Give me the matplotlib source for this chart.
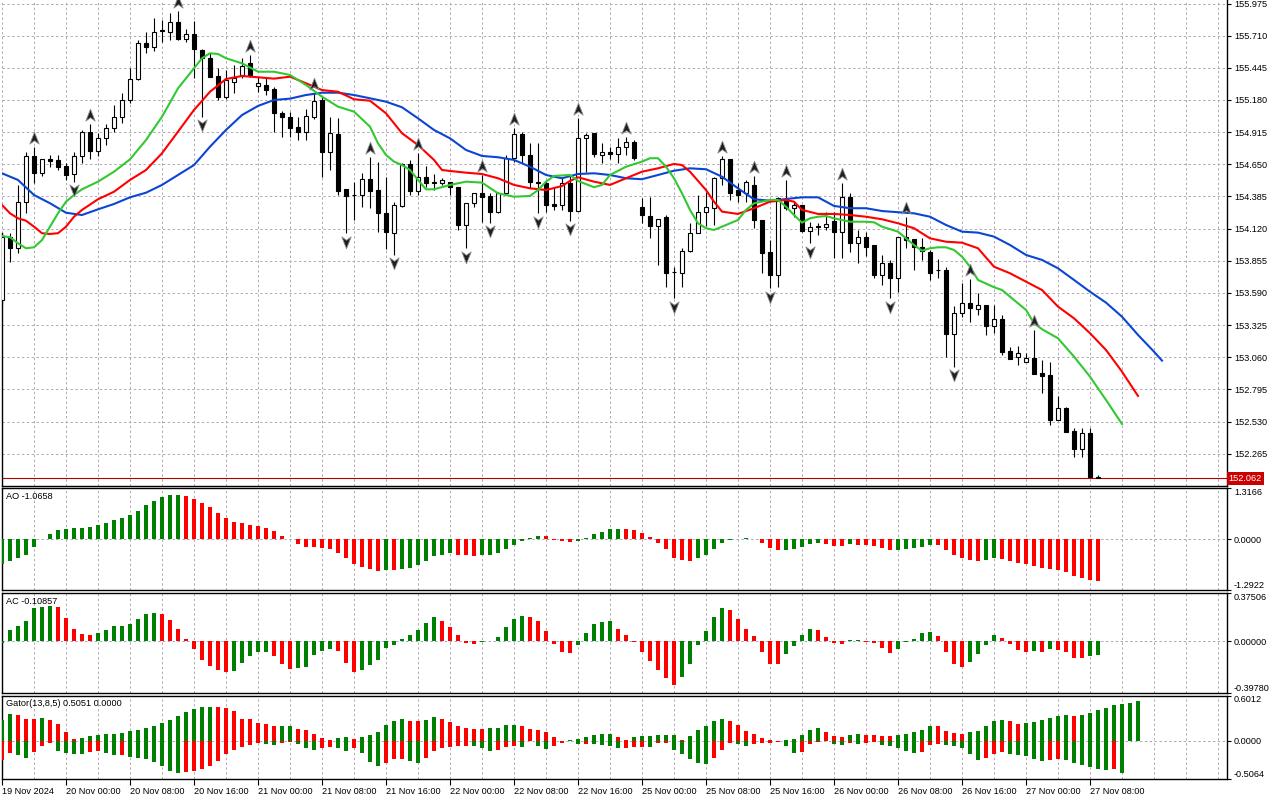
import numpy as np
import matplotlib.pyplot as plt
import matplotlib.transforms as mtransforms
from matplotlib.path import Path
from matplotlib.ticker import MultipleLocator

plt.rcParams['font.family'] = ['Liberation Sans', 'DejaVu Sans']
plt.rcParams['font.size'] = 6.6

# ---------------- DATA (hourly bars) ----------------
opens = [153.532, 154.054, 153.958, 154.342, 154.719, 154.581, 154.691, 154.686, 154.639, 154.568,
         154.719, 154.914, 154.762, 154.864, 154.947, 155.042, 155.180, 155.351, 155.647, 155.619,
         155.757, 155.743, 155.825, 155.680, 155.721, 155.592, 155.524, 155.378, 155.207, 155.331,
         155.386, 155.482, 155.295, 155.304, 155.268, 155.070, 155.042, 154.960, 154.919, 155.042,
         155.180, 154.754, 154.900, 154.444, 154.400, 154.397, 154.527, 154.438, 154.251, 154.087,
         154.307, 154.653, 154.433, 154.543, 154.504, 154.499, 154.507, 154.466, 154.150, 154.329,
         154.411, 154.389, 154.260, 154.416, 154.700, 154.900, 154.727, 154.507, 154.494, 154.323,
         154.315, 154.494, 154.268, 154.864, 154.906, 154.727, 154.749, 154.733, 154.795, 154.831,
         154.296, 154.224, 154.142, 154.218, 153.763, 153.757, 153.938, 154.087, 154.260, 154.288,
         154.535, 154.691, 154.438, 154.416, 154.480, 154.191, 153.930, 153.738, 154.362, 154.288,
         154.315, 154.103, 154.138, 154.136, 154.185, 154.095, 154.378, 154.004, 154.049, 153.985,
         153.738, 153.834, 153.711, 154.049, 154.035, 153.966, 153.930, 153.779, 153.779, 153.252,
         153.427, 153.505, 153.455, 153.491, 153.318, 153.373, 153.112, 153.060, 153.024, 153.052,
         152.933, 152.914, 152.543, 152.640, 152.455, 152.304, 152.434, 152.076]
highs = [154.084, 154.084, 154.480, 154.754, 154.795, 154.691, 154.727, 154.727, 154.658, 154.754,
         154.933, 154.982, 154.906, 154.982, 155.139, 155.235, 155.441, 155.674, 155.743, 155.853,
         155.839, 155.894, 155.913, 155.763, 155.833, 155.598, 155.565, 155.441, 155.427, 155.468,
         155.526, 155.551, 155.372, 155.372, 155.290, 155.089, 155.084, 155.037, 155.103, 155.238,
         155.213, 155.042, 155.029, 154.444, 154.507, 154.576, 154.713, 154.672, 154.548, 154.342,
         154.658, 154.686, 154.741, 154.636, 154.570, 154.535, 154.507, 154.466, 154.329, 154.416,
         154.562, 154.411, 154.424, 154.727, 154.947, 154.919, 154.823, 154.823, 154.521, 154.466,
         154.535, 154.554, 155.029, 154.906, 154.911, 154.823, 154.795, 154.864, 154.873, 154.850,
         154.370, 154.383, 154.197, 154.232, 153.806, 153.958, 154.169, 154.397, 154.424, 154.548,
         154.719, 154.691, 154.496, 154.521, 154.554, 154.191, 154.026, 154.383, 154.521, 154.342,
         154.315, 154.177, 154.169, 154.260, 154.260, 154.496, 154.411, 154.109, 154.095, 153.985,
         153.903, 153.862, 154.054, 154.218, 154.035, 154.040, 153.944, 153.867, 153.801, 153.483,
         153.675, 153.705, 153.587, 153.491, 153.491, 153.408, 153.147, 153.153, 153.098, 153.285,
         153.038, 153.024, 152.741, 152.653, 152.475, 152.475, 152.475, 152.090]
lows = [153.491, 153.845, 153.917, 154.251, 154.499, 154.554, 154.630, 154.603, 154.521, 154.507,
        154.658, 154.691, 154.719, 154.809, 154.919, 154.988, 155.153, 155.345, 155.565, 155.586,
        155.660, 155.674, 155.674, 155.660, 155.359, 155.042, 155.367, 155.180, 155.186, 155.235,
        155.361, 155.367, 155.248, 155.221, 154.919, 154.873, 154.873, 154.850, 154.850, 155.021,
        154.548, 154.603, 154.397, 154.082, 154.191, 154.301, 154.293, 154.095, 153.950, 153.903,
        154.301, 154.397, 154.397, 154.466, 154.438, 154.480, 154.397, 154.109, 153.958, 154.296,
        154.177, 154.166, 154.246, 154.411, 154.672, 154.658, 154.452, 154.246, 154.260, 154.274,
        154.274, 154.185, 154.268, 154.589, 154.713, 154.663, 154.691, 154.658, 154.727, 154.686,
        154.164, 154.045, 153.820, 153.642, 153.546, 153.642, 153.930, 154.082, 154.142, 154.150,
        154.480, 154.356, 154.340, 154.342, 154.123, 153.752, 153.628, 153.642, 154.274, 154.218,
        154.095, 153.999, 154.068, 154.109, 153.876, 153.876, 153.930, 153.834, 153.895, 153.711,
        153.656, 153.546, 153.600, 153.958, 153.779, 153.862, 153.697, 153.711, 153.065, 152.982,
        153.394, 153.353, 153.408, 153.244, 153.258, 153.079, 153.043, 152.996, 153.024, 152.922,
        152.763, 152.502, 152.543, 152.447, 152.241, 152.236, 152.076, 152.061]
closes = [154.051, 153.958, 154.342, 154.719, 154.581, 154.691, 154.680, 154.630, 154.562, 154.719,
          154.914, 154.762, 154.864, 154.947, 155.042, 155.180, 155.351, 155.647, 155.619, 155.743,
          155.749, 155.825, 155.680, 155.721, 155.598, 155.524, 155.372, 155.207, 155.345, 155.359,
          155.460, 155.386, 155.318, 155.262, 155.070, 155.037, 154.952, 154.919, 155.048, 155.174,
          154.754, 154.911, 154.433, 154.389, 154.395, 154.527, 154.433, 154.246, 154.095, 154.315,
          154.653, 154.433, 154.543, 154.499, 154.500, 154.521, 154.461, 154.150, 154.329, 154.411,
          154.383, 154.260, 154.416, 154.700, 154.900, 154.727, 154.507, 154.494, 154.315, 154.307,
          154.494, 154.268, 154.864, 154.892, 154.733, 154.749, 154.733, 154.795, 154.831, 154.700,
          154.232, 154.142, 154.197, 153.757, 153.759, 153.938, 154.087, 154.255, 154.296, 154.535,
          154.691, 154.416, 154.397, 154.502, 154.191, 153.922, 153.738, 154.370, 154.288, 154.315,
          154.103, 154.131, 154.133, 154.158, 154.095, 154.378, 154.004, 154.049, 153.971, 153.738,
          153.834, 153.711, 154.049, 154.026, 153.966, 153.938, 153.757, 153.775, 153.252, 153.422,
          153.505, 153.464, 153.491, 153.318, 153.373, 153.106, 153.043, 153.093, 153.052, 152.922,
          152.906, 152.543, 152.640, 152.447, 152.304, 152.434, 152.076, 152.062]

# Alligator (lines run past the last bar because of their forward shift)
jaw_x = list(range(0, 145, 2)) + [145]
jaw = [154.576, 154.521, 154.397, 154.329, 154.251, 154.232, 154.279, 154.323, 154.378, 154.416,
       154.480, 154.562, 154.644, 154.795, 154.933, 155.056, 155.131, 155.180, 155.191, 155.221,
       155.240, 155.240, 155.221, 155.194, 155.166, 155.120, 155.029, 154.933, 154.864, 154.768,
       154.719, 154.708, 154.686, 154.630, 154.562, 154.535, 154.570, 154.576, 154.562, 154.535,
       154.527, 154.562, 154.597, 154.617, 154.609, 154.548, 154.452, 154.362, 154.350, 154.364,
       154.378, 154.378, 154.307, 154.288, 154.288, 154.265, 154.255, 154.246, 154.218, 154.150,
       154.095, 154.087, 154.054, 153.985, 153.903, 153.862, 153.793, 153.697, 153.600, 153.510,
       153.394, 153.244, 153.106, 153.032]
teeth_x = [0, 1, 2, 3, 4, 5, 6, 7, 8, 9, 10,
           12, 14, 16, 18, 20, 22, 24, 26, 28, 30,
           32, 34, 36, 38, 40, 42, 44, 46, 48, 50,
           52, 54, 55, 56, 58, 60, 62, 64, 66, 68,
           70, 71, 72, 74, 76, 78, 80, 82, 84, 85,
           86, 88, 89, 90, 92, 94, 96, 98, 99, 100,
           102, 104, 106, 108, 110, 112, 114, 116, 118, 120,
           122, 124, 126, 128, 130, 132, 134, 136, 138, 140, 142]
teeth = [154.315, 154.246, 154.205, 154.185, 154.136, 154.082, 154.076, 154.082, 154.136, 154.218, 154.274,
         154.362, 154.424, 154.521, 154.603, 154.741, 154.919, 155.098, 155.248, 155.353, 155.378,
         155.367, 155.356, 155.372, 155.318, 155.262, 155.248, 155.186, 155.174, 155.070, 154.906,
         154.809, 154.686, 154.603, 154.595, 154.581, 154.570, 154.535, 154.480, 154.452, 154.438,
         154.471, 154.513, 154.543, 154.507, 154.480, 154.535, 154.589, 154.617, 154.653, 154.644,
         154.589, 154.438, 154.342, 154.260, 154.241, 154.288, 154.342, 154.356, 154.342, 154.274,
         154.241, 154.241, 154.232, 154.218, 154.197, 154.164, 154.123, 154.040, 154.012, 154.004,
         153.958, 153.806, 153.752, 153.683, 153.614, 153.477, 153.381, 153.258, 153.120, 152.941, 152.741]
lips_x = [0, 1, 2, 3, 4, 5, 6, 7, 8, 9, 10,
          12, 14, 16, 18, 20, 22, 24, 25, 26, 27, 28,
          30, 32, 34, 36, 38, 40, 42, 44, 46, 47, 48, 49, 50, 51, 52, 53, 54,
          56, 58, 60, 62, 64, 66, 67, 68, 69, 71, 72, 74, 75, 76, 78,
          80, 81, 82, 83, 84, 85, 86, 87, 88, 89, 90, 92, 93, 94, 96, 97, 98, 99,
          100, 101, 102, 103, 104, 106, 108, 109, 110, 112, 114, 115, 116, 117, 118, 119,
          120, 121, 122, 124, 125, 126, 128, 129, 130, 132, 134, 136, 138, 140]
lips = [154.059, 154.049, 153.999, 153.958, 153.966, 154.026, 154.136, 154.246, 154.342, 154.397, 154.444,
        154.507, 154.589, 154.691, 154.850, 155.042, 155.276, 155.441, 155.524, 155.565, 155.559, 155.524,
        155.482, 155.413, 155.413, 155.386, 155.304, 155.207, 155.125, 155.084, 154.960, 154.823, 154.727,
        154.672, 154.644, 154.603, 154.521, 154.444, 154.444,
        154.480, 154.507, 154.499, 154.411, 154.383, 154.389, 154.438, 154.507, 154.554, 154.562, 154.513,
        154.461, 154.480, 154.562, 154.630,
        154.672, 154.700, 154.700, 154.630, 154.535, 154.411, 154.274, 154.164, 154.123, 154.109, 154.136,
        154.191, 154.274, 154.329, 154.356, 154.356, 154.301, 154.232,
        154.169, 154.205, 154.218, 154.224, 154.205, 154.177, 154.177, 154.172, 154.136, 154.095, 153.985,
        153.938, 153.958, 153.966, 153.966, 153.944,
        153.889, 153.806, 153.697, 153.637, 153.614, 153.559, 153.450, 153.340, 153.291, 153.216, 153.065,
        152.900, 152.708, 152.510]

fractal_up = [4, 11, 22, 31, 39, 46, 52, 60, 64, 72, 78, 90, 94, 98, 105, 113, 121, 129]
fractal_down = [9, 25, 43, 49, 58, 61, 67, 71, 84, 96, 101, 111, 119]

ao = [-0.635, -0.548, -0.487, -0.391, -0.200, 0.010, 0.130, 0.235, 0.260, 0.278,
      0.296, 0.313, 0.365, 0.417, 0.496, 0.548, 0.626, 0.713, 0.861, 0.974,
      1.070, 1.115, 1.122, 1.096, 1.017, 0.913, 0.809, 0.678, 0.548, 0.443,
      0.417, 0.374, 0.348, 0.287, 0.217, 0.078, 0.010, -0.130, -0.200, -0.209,
      -0.235, -0.261, -0.339, -0.470, -0.626, -0.696, -0.748, -0.809, -0.774, -0.780,
      -0.748, -0.722, -0.652, -0.548, -0.435, -0.391, -0.357, -0.391, -0.409, -0.415,
      -0.409, -0.400, -0.357, -0.252, -0.148, -0.043, 0.026, 0.078, 0.070, -0.010,
      -0.035, -0.070, -0.043, 0.026, 0.130, 0.183, 0.260, 0.265, 0.260, 0.235,
      0.157, 0.052, -0.096, -0.252, -0.470, -0.539, -0.545, -0.487, -0.409, -0.252,
      -0.096, -0.017, 0.005, 0.026, 0.017, -0.096, -0.226, -0.278, -0.270, -0.252,
      -0.209, -0.122, -0.096, -0.122, -0.174, -0.180, -0.122, -0.148, -0.150, -0.174,
      -0.226, -0.278, -0.272, -0.252, -0.226, -0.200, -0.148, -0.152, -0.278, -0.409,
      -0.487, -0.539, -0.565, -0.539, -0.487, -0.513, -0.565, -0.617, -0.643, -0.670,
      -0.722, -0.748, -0.774, -0.826, -0.930, -0.983, -1.035, -1.0658]
ac = [-0.015, 0.086, 0.120, 0.159, 0.258, 0.265, 0.270, 0.265, 0.180, 0.094,
      0.055, 0.050, 0.065, 0.086, 0.117, 0.120, 0.133, 0.172, 0.211, 0.219,
      0.211, 0.164, 0.094, 0.016, -0.062, -0.141, -0.187, -0.219, -0.234, -0.226,
      -0.164, -0.117, -0.086, -0.080, -0.117, -0.172, -0.211, -0.203, -0.195, -0.109,
      -0.078, -0.062, -0.078, -0.164, -0.234, -0.219, -0.180, -0.141, -0.055, -0.031,
      0.016, 0.047, 0.086, 0.141, 0.187, 0.156, 0.109, 0.047, -0.016, -0.023,
      -0.003, 0.003, 0.031, 0.109, 0.172, 0.195, 0.187, 0.156, 0.078, -0.023,
      -0.086, -0.094, -0.031, 0.062, 0.133, 0.148, 0.156, 0.094, 0.047, -0.005,
      -0.086, -0.148, -0.219, -0.281, -0.336, -0.273, -0.172, -0.031, 0.078, 0.187,
      0.258, 0.242, 0.172, 0.094, 0.039, -0.086, -0.172, -0.175, -0.101, -0.039,
      0.047, 0.094, 0.090, 0.031, -0.016, -0.023, 0.008, 0.012, -0.005, -0.016,
      -0.055, -0.094, -0.062, -0.003, 0.016, 0.062, 0.070, 0.039, -0.086, -0.172,
      -0.195, -0.156, -0.101, -0.031, 0.047, 0.023, -0.023, -0.070, -0.086, -0.078,
      -0.082, -0.062, -0.070, -0.086, -0.125, -0.128, -0.117, -0.10857]
gator_up = [0.271, 0.353, 0.339, 0.285, 0.285, 0.299, 0.271, 0.217, 0.122, 0.027,
            0.041, 0.068, 0.081, 0.088, 0.095, 0.109, 0.136, 0.149, 0.176, 0.190,
            0.231, 0.271, 0.326, 0.380, 0.416, 0.448, 0.452, 0.448, 0.434, 0.394,
            0.285, 0.285, 0.231, 0.217, 0.190, 0.195, 0.200, 0.163, 0.149, 0.095,
            0.041, 0.014, 0.041, 0.045, 0.027, 0.054, 0.081, 0.122, 0.204, 0.258,
            0.285, 0.258, 0.258, 0.271, 0.312, 0.285, 0.244, 0.190, 0.176, 0.163,
            0.163, 0.168, 0.176, 0.204, 0.208, 0.190, 0.163, 0.149, 0.122, 0.054,
            0.004, 0.014, 0.020, 0.054, 0.081, 0.086, 0.095, 0.054, 0.014, 0.054,
            0.068, 0.070, 0.072, 0.074, 0.076, 0.014, 0.068, 0.149, 0.190, 0.258,
            0.285, 0.258, 0.204, 0.136, 0.095, 0.041, 0.014, 0.004, 0.014, 0.027,
            0.081, 0.149, 0.176, 0.122, 0.068, 0.054, 0.081, 0.095, 0.081, 0.081,
            0.068, 0.068, 0.081, 0.095, 0.122, 0.149, 0.190, 0.190, 0.136, 0.109,
            0.095, 0.122, 0.126, 0.190, 0.258, 0.271, 0.258, 0.217, 0.231, 0.244,
            0.271, 0.299, 0.326, 0.339, 0.326, 0.339, 0.366, 0.407, 0.434, 0.475,
            0.489, 0.502, 0.525]
gator_down = [-0.258, -0.163, -0.190, -0.231, -0.149, -0.068, -0.023, -0.136, -0.163, -0.176,
              -0.180, -0.149, -0.136, -0.163, -0.190, -0.190, -0.217, -0.231, -0.244, -0.285,
              -0.339, -0.394, -0.421, -0.407, -0.394, -0.380, -0.339, -0.271, -0.176, -0.122,
              -0.081, -0.054, -0.027, -0.041, -0.054, -0.023, -0.009, -0.041, -0.095, -0.122,
              -0.100, -0.080, -0.100, -0.140, -0.100, -0.160, -0.280, -0.340, -0.290, -0.244,
              -0.244, -0.271, -0.299, -0.231, -0.136, -0.095, -0.081, -0.068, -0.068, -0.072,
              -0.095, -0.136, -0.122, -0.081, -0.068, -0.081, -0.004, -0.063, -0.109, -0.068,
              -0.023, -0.004, -0.041, -0.041, -0.045, -0.050, -0.068, -0.095, -0.095, -0.081,
              -0.081, -0.085, -0.027, -0.023, -0.122, -0.176, -0.244, -0.299, -0.312, -0.231,
              -0.122, -0.035, -0.041, -0.068, -0.041, -0.023, -0.023, -0.009, -0.063, -0.163,
              -0.149, -0.036, -0.009, -0.004, -0.036, -0.054, -0.023, -0.041, -0.027, -0.009,
              -0.054, -0.068, -0.095, -0.136, -0.163, -0.149, -0.054, -0.036, -0.054, -0.068,
              -0.095, -0.176, -0.258, -0.231, -0.176, -0.149, -0.176, -0.190, -0.204, -0.244,
              -0.270, -0.258, -0.245, -0.258, -0.299, -0.326, -0.353, -0.380, -0.385, -0.380,
              -0.421, -0.004]

price_ticks = [155.975, 155.710, 155.445, 155.180, 154.915, 154.650, 154.385, 154.120,
               153.855, 153.590, 153.325, 153.060, 152.795, 152.530, 152.265]
last_price = 152.062
price_range = (152.003, 156.004)
ao_range = (-1.2922, 1.3166)
ac_range = (-0.39780, 0.37506)
gator_range = (-0.5064, 0.6012)
gator_title = 'Gator(13,8,5) 0.5051 0.0000'

time_labels = ['19 Nov 2024', '20 Nov 00:00', '20 Nov 08:00', '20 Nov 16:00', '21 Nov 00:00',
               '21 Nov 08:00', '21 Nov 16:00', '22 Nov 00:00', '22 Nov 08:00', '22 Nov 16:00',
               '25 Nov 00:00', '25 Nov 08:00', '25 Nov 16:00', '26 Nov 00:00', '26 Nov 08:00',
               '26 Nov 16:00', '27 Nov 00:00', '27 Nov 08:00']

# ---------------- STYLE ----------------
GREEN = '#008000'
RED = '#ff0000'
GRID = dict(color='#b4a8b4', lw=0.7, ls=(0, (2.5, 2.5)))
ZERO = dict(color='#a0aab8', lw=0.7, ls=(0, (2.5, 2.5)))
FS = 6.6

W, H = 1280, 800
fig = plt.figure(figsize=(W / 100, H / 100), dpi=100)


def panel(top, bottom):
    left, right = 2, 1227
    return fig.add_axes([left / W, 1 - bottom / H, (right - left) / W, (bottom - top) / H])


def rising(v, first=True):
    return np.r_[first, np.diff(np.asarray(v)) > 0]


ax = panel(0, 485.5)
ao_ax = panel(487.5, 590)
ac_ax = panel(592.5, 693)
gt_ax = panel(695.5, 779)

n = len(opens)
x = np.arange(n)
for a in (ax, ao_ax, ac_ax, gt_ax):
    a.set_xlim(0, 153.125)
    a.set_xticks(np.arange(0, n, 8))
    a.xaxis.set_minor_locator(MultipleLocator(4))
    a.grid(True, axis='x', which='both', **GRID)
    a.set_axisbelow(True)
    a.yaxis.tick_right()
    a.tick_params(axis='y', direction='out', length=3, width=0.8, pad=2, labelsize=FS)
    a.tick_params(axis='x', which='both', length=0, labelbottom=False)
    for s in a.spines.values():
        s.set_linewidth(1.0)

# ---------------- main chart ----------------
o, h, l, c = map(np.array, (opens, highs, lows, closes))
bull = c > o
ax.axhline(last_price, color='#b40000', lw=0.8, zorder=2)
ax.vlines(x, l, h, color='black', lw=0.8, zorder=3)
ax.bar(x, np.abs(c - o), bottom=np.minimum(o, c), width=0.6,
       color=np.where(bull, 'white', 'black'), edgecolor='black', lw=0.8, zorder=4)

ax.plot(jaw_x, jaw, color='#0a46d2', lw=1.5, zorder=5)
ax.plot(teeth_x, teeth, color='#ff0000', lw=1.5, zorder=5)
ax.plot(lips_x, lips, color='#32c832', lw=1.5, zorder=5)

up_arrow = Path([(0, 1), (0.75, -0.9), (0, -0.35), (-0.75, -0.9), (0, 1)],
                [Path.MOVETO, Path.LINETO, Path.LINETO, Path.LINETO, Path.CLOSEPOLY])
dn_arrow = Path([(0, -1), (0.75, 0.9), (0, 0.35), (-0.75, 0.9), (0, -1)],
                [Path.MOVETO, Path.LINETO, Path.LINETO, Path.LINETO, Path.CLOSEPOLY])
above = mtransforms.offset_copy(ax.transData, fig=fig, y=6.5, units='points')
below = mtransforms.offset_copy(ax.transData, fig=fig, y=-6, units='points')
ax.plot(fractal_up, h[fractal_up], ls='none', marker=up_arrow, ms=9,
        mfc='#1e1e1e', mec='#8c8c8c', mew=0.6, transform=above, zorder=6)
ax.plot(fractal_down, l[fractal_down], ls='none', marker=dn_arrow, ms=9,
        mfc='#1e1e1e', mec='#8c8c8c', mew=0.6, transform=below, zorder=6)

ax.set_ylim(*price_range)
ax.set_yticks(price_ticks, [f'{p:.3f}' for p in price_ticks])
ax.grid(True, axis='y', **GRID)
ax.spines['top'].set_visible(False)
ax.spines['left'].set_bounds(price_range[0], highs[0])
ax.text(1.0015, last_price, f'{last_price:.3f}', transform=ax.get_yaxis_transform(),
        ha='left', va='center', color='white', fontsize=FS,
        bbox=dict(boxstyle='square,pad=0.25', fc='#cc0000', ec='none'), zorder=10, clip_on=False)


# ---------------- indicator windows ----------------
def finish(a, rng, fmt, title):
    a.set_ylim(*rng)
    ticks = [rng[0], 0.0, rng[1]]
    a.set_yticks(ticks, [fmt.format(t) for t in ticks])
    labels = a.get_yticklabels()
    labels[0].set_va('bottom')
    labels[2].set_va('top')
    a.axhline(0, zorder=0, **ZERO)
    a.annotate(title, xy=(0, 1), xycoords='axes fraction', xytext=(4, -4),
               textcoords='offset pixels', ha='left', va='top', fontsize=FS)


ao_ax.bar(x, ao, width=0.55, color=np.where(rising(ao), GREEN, RED), zorder=3)
finish(ao_ax, ao_range, '{:.4f}', f'AO {ao[-1]:.4f}')

ac_ax.bar(x, ac, width=0.55, color=np.where(rising(ac), GREEN, RED), zorder=3)
finish(ac_ax, ac_range, '{:.5f}', f'AC {ac[-1]:.5f}')

gx_up = np.arange(len(gator_up))
gx_dn = np.arange(len(gator_down))
gt_ax.bar(gx_up, gator_up, width=0.55, color=np.where(rising(gator_up), GREEN, RED), zorder=3)
gt_ax.bar(gx_dn, gator_down, width=0.55,
          color=np.where(rising(np.abs(gator_down), first=False), GREEN, RED), zorder=3)
finish(gt_ax, gator_range, '{:.4f}', gator_title)

gt_ax.set_xticks(np.arange(0, n, 8), time_labels)
gt_ax.tick_params(axis='x', which='major', length=4, width=0.8, direction='out',
                  labelbottom=True, pad=1.5, labelsize=FS)
for t in gt_ax.get_xticklabels():
    t.set_ha('left')

fig.savefig('out.png', dpi=100, facecolor='white')
